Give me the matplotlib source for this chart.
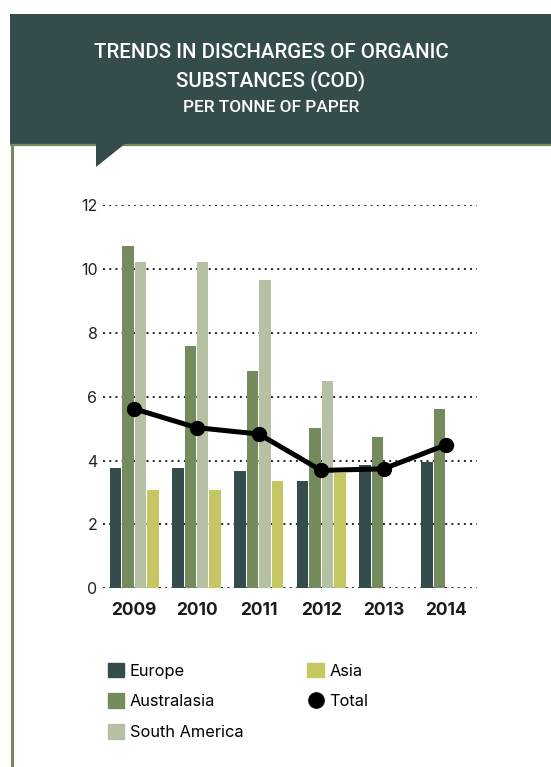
import numpy as np
import matplotlib
matplotlib.use('Agg')
import matplotlib.pyplot as plt
from matplotlib.patches import Rectangle, Polygon
from matplotlib.lines import Line2D

plt.rcParams['font.family'] = ['Inter', 'DejaVu Sans']

# Данные: сбросы органических веществ (ХПК) на тонну бумаги
years = ['2009', '2010', '2011', '2012', '2013', '2014']
europe = [3.77, 3.77, 3.68, 3.36, 3.87, 3.96]
australasia = [10.73, 7.60, 6.81, 5.03, 4.74, 5.62]
south_america = [10.23, 10.23, 9.64, 6.50, np.nan, np.nan]
asia = [3.08, 3.08, 3.36, 3.62, np.nan, np.nan]
total = [5.62, 5.03, 4.83, 3.69, 3.74, 4.49]

dark = '#344c4b'
green = '#748b5e'
pale = '#b5c1a2'
yellow = '#c5c862'

W, H = 551, 767
fig = plt.figure(figsize=(W / 100, H / 100), dpi=100)

# Фон: шапка с хвостиком и зелёная рамка
bg = fig.add_axes([0, 0, 1, 1])
bg.set_xlim(0, W)
bg.set_ylim(H, 0)
bg.axis('off')
bg.add_patch(Rectangle((10, 14), W - 10, 130, color=dark, lw=0))
bg.plot([10, W], [145, 145], color=green, lw=1.6, solid_capstyle='butt')
bg.plot([11.5, 11.5], [144, H], color=green, lw=2.2, solid_capstyle='butt')
bg.add_patch(Polygon([(96, 143), (126, 143), (96, 167)], closed=True,
                     color=dark, lw=0, zorder=5))

title_font = dict(color='white', family=['Roboto', 'DejaVu Sans'],
                  fontweight='medium', ha='center', va='center')
bg.text(271, 53, 'TRENDS IN DISCHARGES OF ORGANIC', fontsize=14.8, **title_font)
bg.text(271, 81, 'SUBSTANCES (COD)', fontsize=14.8, **title_font)
bg.text(271, 108, 'PER TONNE OF PAPER', fontsize=12.4, **title_font)

# Основной график
ax = fig.add_axes([103 / W, 1 - 588.3 / H, 374 / W, 383.3 / H])
x = np.arange(len(years))
w = 0.2
bw = 0.185
series = [(europe, dark, 'Europe'), (australasia, green, 'Australasia'),
          (south_america, pale, 'South America'), (asia, yellow, 'Asia')]
for i, (vals, col, name) in enumerate(series):
    ax.bar(x + (i - 1.5) * w, vals, width=bw, color=col, label=name, zorder=2)

ax.plot(x, total, color='black', lw=3.6, marker='o', markersize=10,
        zorder=3, clip_on=False, label='Total')

ax.set_xlim(-0.5, 5.5)
ax.set_ylim(0, 12)
ax.set_yticks(range(0, 13, 2))
ax.set_xticks(x)
ax.set_xticklabels(years, fontweight='bold', fontsize=12.5, color='#1a1a1a')
ax.tick_params(axis='x', length=0, pad=10)
ax.tick_params(axis='y', length=0, pad=4, labelsize=11.5, labelcolor='#222222')
for s in ax.spines.values():
    s.set_visible(False)
ax.grid(axis='y', color='#222222', linestyle=(0, (1, 2.2)), lw=1.4,
        dash_capstyle='butt', zorder=1)
ax.set_axisbelow(True)

# Легенда
handles = [Rectangle((0, 0), 1, 1, color=dark),
           Rectangle((0, 0), 1, 1, color=green),
           Rectangle((0, 0), 1, 1, color=pale),
           Rectangle((0, 0), 1, 1, color=yellow),
           Line2D([], [], color='black', marker='o', markersize=11, lw=0)]
labels = ['Europe', 'Australasia', 'South America', 'Asia', 'Total']
fig.legend(handles, labels, ncol=2, frameon=False, fontsize=11.8,
           loc='upper left', bbox_to_anchor=(93 / W, 1 - 648 / H),
           handlelength=1.0, handleheight=1.0, handletextpad=0.35,
           labelspacing=0.9, columnspacing=3.9)

fig.savefig('out.png', dpi=100)
